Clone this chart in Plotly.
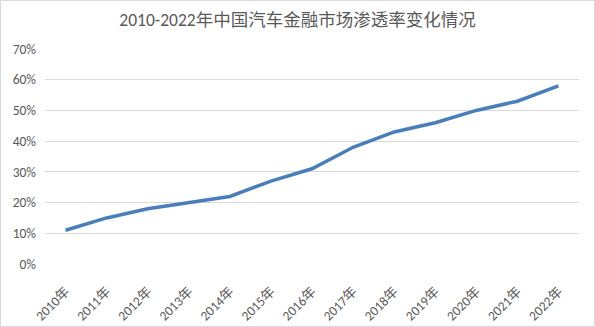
import plotly.graph_objects as go

years = ["2010年", "2011年", "2012年", "2013年", "2014年", "2015年", "2016年",
         "2017年", "2018年", "2019年", "2020年", "2021年", "2022年"]
penetration = [0.11, 0.15, 0.18, 0.20, 0.22, 0.27, 0.31,
               0.38, 0.43, 0.46, 0.50, 0.53, 0.58]
y_ticks = [0, 0.1, 0.2, 0.3, 0.4, 0.5, 0.6, 0.7]

W, H = 595, 327
ml, mr, mt, mb = 45, 16, 49, 63
pw, ph = W - ml - mr, H - mt - mb

fig = go.Figure(go.Scatter(
    x=years, y=penetration, mode="lines",
    line=dict(color="#4A7EBB", width=3.5),
    hoverinfo="x+y",
))

font_family = "Carlito, Calibri, 'Noto Sans CJK SC', sans-serif"

fig.update_layout(
    width=W, height=H,
    margin=dict(l=ml, r=mr, t=mt, b=mb, autoexpand=False),
    paper_bgcolor="white", plot_bgcolor="white",
    showlegend=False,
    title=dict(text="2010-2022年中国汽车金融市场渗透率变化情况",
               x=0.5, xanchor="center", y=1 - 20 / H, yanchor="middle",
               font=dict(family=font_family, size=17.5, color="#595959")),
    font=dict(family=font_family, color="#595959"),
)
fig.update_xaxes(
    type="category", tickangle=-45, showgrid=False, showline=False,
    ticks="", tickfont=dict(size=13.5, color="#595959"),
    ticklabelstandoff=16, automargin=False,
    range=[-0.5, len(years) - 0.5],
)
fig.update_yaxes(
    range=[0, 0.7], tickvals=y_ticks, tickformat=".0%",
    showgrid=True, gridcolor="#D9D9D9", gridwidth=1,
    zeroline=False, showline=False, ticks="",
    tickfont=dict(size=13.5, color="#595959"),
    ticklabelstandoff=8, automargin=False,
)

# light chart-area border around the whole figure
fig.add_shape(type="rect", xref="paper", yref="paper",
              x0=-ml / pw + 0.5 / pw, x1=1 + mr / pw - 0.5 / pw,
              y0=-mb / ph + 0.5 / ph, y1=1 + mt / ph - 0.5 / ph,
              line=dict(color="#D9D9D9", width=1), layer="below")

fig.write_html("out.html")
